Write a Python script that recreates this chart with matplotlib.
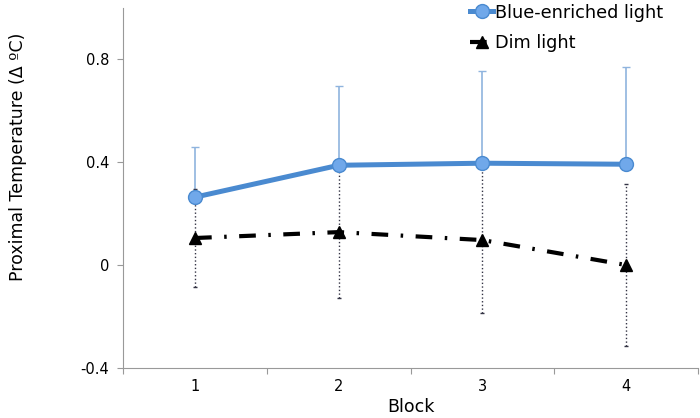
import numpy as np
import matplotlib.pyplot as plt

blocks = [1, 2, 3, 4]
blue_mean = [0.264, 0.388, 0.396, 0.392]
blue_err = [0.194, 0.307, 0.357, 0.377]
dim_mean = [0.105, 0.128, 0.097, 0.0]
dim_err = [0.19, 0.256, 0.283, 0.315]

fig = plt.figure(figsize=(7, 4.18), dpi=100)
ax = fig.add_axes([0.176, 0.12, 0.821, 0.861])

# blue error bars (upper only)
ax.errorbar(blocks, blue_mean, yerr=[np.zeros(4), blue_err], fmt='none',
            ecolor='#8fb4de', elinewidth=1.2, capsize=3, capthick=1, zorder=2)
# dim error bars, dotted
eb = ax.errorbar(blocks, dim_mean, yerr=dim_err, fmt='none',
                 ecolor='#333344', elinewidth=1, capsize=1.5, capthick=1, zorder=2)
eb[2][0].set_linestyle(':')

ax.plot(blocks, dim_mean, color='black', lw=3, dashes=(4, 3, 0.6, 3),
        marker='^', markersize=9, label='Dim light', zorder=3)
ax.plot(blocks, blue_mean, color='#4a8ad0', lw=3.6, marker='o', markersize=10,
        markerfacecolor='#70a8ea', markeredgecolor='#4a8ad0', markeredgewidth=1,
        label='Blue-enriched light', zorder=4)

ax.set_xlim(0.5, 4.5)
ax.set_ylim(-0.4, 1.0)
ax.set_yticks([-0.4, 0, 0.4, 0.8])
ax.set_yticklabels(['-0.4', '0', '0.4', '0.8'])
ax.set_xticks([0.5, 1.5, 2.5, 3.5, 4.5])
ax.set_xticklabels([])
ax.set_xticks(blocks, minor=True)
ax.set_xticklabels(['1', '2', '3', '4'], minor=True)
ax.tick_params(axis='x', which='minor', length=0, pad=8, labelsize=10.5)
ax.tick_params(axis='x', which='major', length=4, color='#999999')
ax.tick_params(axis='y', length=4, color='#999999', labelsize=10.5, pad=6)

for s in ['top', 'right']:
    ax.spines[s].set_visible(False)
for s in ['left', 'bottom']:
    ax.spines[s].set_color('#999999')

ax.set_xlabel('Block', fontsize=12.5)
ax.xaxis.set_label_coords(0.5, -0.085)
ax.set_ylabel('Proximal Temperature (Δ ºC)', fontsize=12.5)
ax.yaxis.set_label_coords(-0.167, 0.586)

h, l = ax.get_legend_handles_labels()
ax.legend(h[::-1], l[::-1], loc='upper left', bbox_to_anchor=(0.576, 1.056),
          frameon=False, fontsize=12.7, handlelength=1.3, handletextpad=0.1,
          labelspacing=0.7)

fig.savefig('out.png', dpi=100)
